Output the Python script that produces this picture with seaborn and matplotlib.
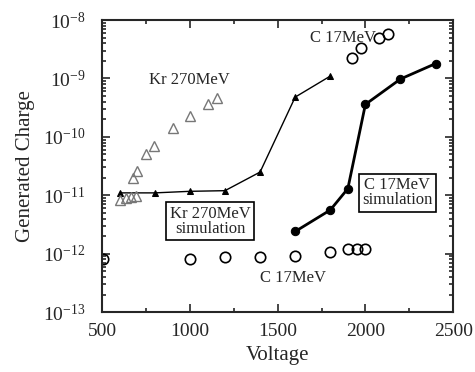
import numpy as np
import pandas as pd
import seaborn as sns
import matplotlib
matplotlib.use("Agg")
import matplotlib.pyplot as plt
from matplotlib.ticker import LogLocator, FixedLocator, NullFormatter

# Kr 270MeV experiment (open triangles)
kr_exp_v = [603, 636, 665, 693, 676, 699, 750, 795, 903, 1000, 1102, 1153]
kr_exp_q = [8.3e-12, 8.9e-12, 9.3e-12, 9.8e-12, 2.0e-11, 2.6e-11, 5.1e-11, 6.9e-11,
            1.4e-10, 2.3e-10, 3.6e-10, 4.6e-10]

# Kr 270MeV simulation (filled triangles)
kr_sim_v = [600, 800, 1000, 1200, 1400, 1600, 1800]
kr_sim_q = [1.1e-11, 1.1e-11, 1.17e-11, 1.2e-11, 2.5e-11, 4.8e-10, 1.1e-9]

# C 17MeV experiment (open circles)
c_exp_v = [505, 1000, 1200, 1400, 1600, 1800, 1900, 1950, 2000,
           1925, 1975, 2080, 2130]
c_exp_q = [8.1e-13, 8.1e-13, 8.7e-13, 8.7e-13, 9.1e-13, 1.07e-12, 1.2e-12, 1.2e-12, 1.2e-12,
           2.2e-9, 3.3e-9, 4.9e-9, 5.8e-9]

# C 17MeV simulation (filled circles)
c_sim_v = [1600, 1800, 1900, 2000, 2200, 2400]
c_sim_q = [2.4e-12, 5.6e-12, 1.3e-11, 3.6e-10, 9.8e-10, 1.8e-9]

sns.set_style("ticks")
plt.rcParams['font.family'] = ['Liberation Serif', 'DejaVu Serif']
plt.rcParams['mathtext.fontset'] = 'custom'
plt.rcParams['mathtext.rm'] = 'Liberation Serif'
plt.rcParams['mathtext.it'] = 'Liberation Serif:italic'

fig = plt.figure(figsize=(4.75, 3.72), dpi=100)
ax = fig.add_axes([0.215, 0.161, 0.739, 0.785])

sns.lineplot(x=kr_sim_v, y=kr_sim_q, ax=ax, color="black", lw=1.0, marker="^",
             markersize=5, markeredgecolor="black", sort=False, estimator=None)
sns.lineplot(x=c_sim_v, y=c_sim_q, ax=ax, color="black", lw=2.0, marker="o",
             markersize=6, markeredgecolor="black", sort=False, estimator=None)
ax.plot(kr_exp_v, kr_exp_q, linestyle="none", marker="^", markersize=7,
        markerfacecolor="none", markeredgecolor="#777777", markeredgewidth=1.0)
ax.plot(c_exp_v, c_exp_q, linestyle="none", marker="o", markersize=7.5,
        markerfacecolor="none", markeredgecolor="black", markeredgewidth=1.2)

ax.set_yscale("log")
ax.set_xlim(500, 2500)
ax.set_ylim(1e-13, 1e-8)
ax.set_xticks([500, 1000, 1500, 2000, 2500])
ax.xaxis.set_minor_locator(FixedLocator([750, 1250, 1750, 2250]))
ax.yaxis.set_minor_locator(LogLocator(base=10, subs=np.arange(2, 10), numticks=20))
ax.yaxis.set_minor_formatter(NullFormatter())

ax.tick_params(which="both", direction="in", top=True, right=True, labelsize=14, width=1.2)
ax.tick_params(which="major", length=6)
ax.tick_params(which="minor", length=3)
ax.tick_params(axis="x", which="major", pad=8)
ax.tick_params(axis="y", which="major", pad=12)
for s in ax.spines.values():
    s.set_linewidth(1.5)

ax.set_xlabel("Voltage", fontsize=15, labelpad=4)
ax.set_ylabel("Generated Charge", fontsize=15, labelpad=6)

ax.text(995, 9.3e-10, "Kr 270MeV", fontsize=12, ha="center", va="center")
ax.text(1875, 4.9e-9, "C 17MeV", fontsize=12, ha="center", va="center")
ax.text(1590, 3.8e-13, "C 17MeV", fontsize=12, ha="center", va="center")
ax.text(1115, 3.6e-12, "Kr 270MeV\nsimulation", fontsize=12, ha="center", va="center",
        linespacing=0.9, bbox=dict(boxstyle="square,pad=0.2", fc="white", ec="black", lw=1.2))
ax.text(2182, 1.1e-11, "C 17MeV\nsimulation", fontsize=12, ha="center", va="center",
        linespacing=0.9, bbox=dict(boxstyle="square,pad=0.2", fc="white", ec="black", lw=1.2))

fig.savefig("out.png", dpi=100)
